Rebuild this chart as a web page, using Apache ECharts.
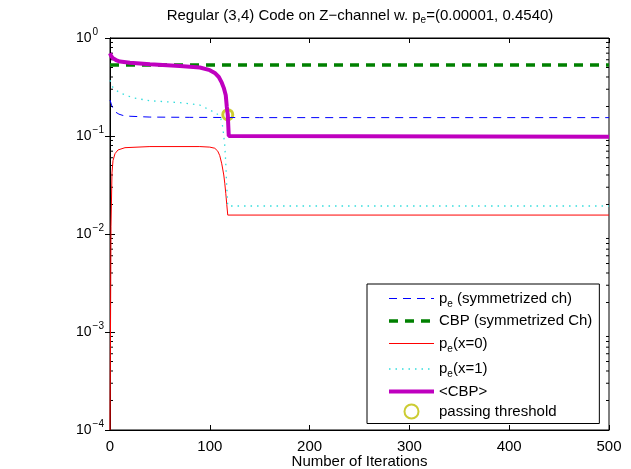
<!DOCTYPE html>
<html><head><meta charset="utf-8">
<script src="https://cdn.jsdelivr.net/npm/echarts@6/dist/echarts.min.js"></script>
<style>html,body{margin:0;padding:0;background:#fff}#c{width:631px;height:469px}</style>
</head><body><div id="c"></div>
<script>
const xTicks = [0, 100, 200, 300, 400, 500];
const yDecades = [1e-4, 1e-3, 1e-2, 1e-1, 1];

const peSymIter = [0, 2, 5, 9, 13, 20, 40, 80, 150, 500];
const peSymVal  = [0.233, 0.2, 0.177, 0.167, 0.162, 0.159, 0.156, 0.155, 0.154, 0.154];

const cbpSymIter = [0, 500];
const cbpSymVal  = [0.53, 0.53];

const pe0Iter = [0, 1, 2, 3, 5, 8, 15, 40, 90, 100, 105, 108, 110, 112, 114, 115, 116, 117, 118, 500];
const pe0Val  = [1e-4, 0.012, 0.042, 0.056, 0.066, 0.072, 0.076, 0.078, 0.078, 0.077, 0.075, 0.07, 0.063, 0.052, 0.04, 0.033, 0.026, 0.02, 0.0156, 0.0156];

const pe1Iter = [0, 3, 10, 23, 40, 70, 90, 100, 107, 111, 113, 115, 116, 117, 118, 500];
const pe1Val  = [0.37, 0.31, 0.275, 0.245, 0.229, 0.219, 0.207, 0.184, 0.17, 0.15, 0.124, 0.08, 0.053, 0.03, 0.0193, 0.0193];

const cbpAvgIter = [0, 1, 3, 6, 10, 20, 40, 70, 90, 100, 105, 109, 112, 114, 116, 117, 118, 119, 120, 500];
const cbpAvgVal  = [0.70, 0.66, 0.62, 0.595, 0.575, 0.56, 0.54, 0.518, 0.5, 0.47, 0.44, 0.4, 0.35, 0.31, 0.26, 0.2, 0.165, 0.1, 0.098, 0.098];

const thrIter = [118];
const thrVal  = [0.165];

const legendNames = ['peSym', 'cbpSym', 'pe0', 'pe1', 'cbpAvg', 'thr'];
const legendLabels = {
  peSym: '{t|p}{s|e}{t| (symmetrized ch)}',
  cbpSym: '{t|CBP (symmetrized Ch)}',
  pe0: '{t|p}{s|e}{t|(x=0)}',
  pe1: '{t|p}{s|e}{t|(x=1)}',
  cbpAvg: '{t|<CBP>}',
  thr: '{t|passing threshold}'
};
const legendLineWidths = {peSym: 1, cbpSym: 3.5, pe0: 1, pe1: 1.3, cbpAvg: 4};

const FONT = 'Liberation Sans, Arial, Helvetica, sans-serif';
const pairs = (xs, ys) => xs.map((x, i) => [x, ys[i]]);

// minor tick values for the log axis (2..9 in each decade)
const minorTicks = [];
for (let d = 0; d < yDecades.length - 1; d++) {
  for (let k = 2; k <= 9; k++) minorTicks.push([k * yDecades[d]]);
}

const chart = echarts.init(document.getElementById('c'), null, {renderer: 'canvas'});

const yLabel = v => {
  const e = Math.round(Math.log10(v));
  return '{b|10}{s|' + (e < 0 ? '\u2212' + (-e) : e) + '}';
};

const option = {
  backgroundColor: '#fff',
  animation: false,
  title: {
    text: '{a|Regular (3,4) Code on Z\u2212channel w. p}{s|e}{a|=(0.00001, 0.4540)}',
    left: 355, top: 3, textAlign: 'center',
    textStyle: {
      fontFamily: FONT, fontWeight: 'normal', color: '#000',
      rich: {
        a: {fontFamily: FONT, fontSize: 15, lineHeight: 16, color: '#000'},
        s: {fontFamily: FONT, fontSize: 10, lineHeight: 10, color: '#000', padding: [8, 0, 0, 0]}
      }
    }
  },
  grid: {left: 110, right: 22, top: 38, bottom: 39, outerBoundsMode: 'none', containLabel: false,
         show: true, borderColor: '#000', borderWidth: 1},
  xAxis: [{
    type: 'value', min: 0, max: 500, interval: 100,
    name: 'Number of Iterations', nameLocation: 'middle', nameGap: 24, nameMoveOverlap: false,
    nameTextStyle: {fontFamily: FONT, fontSize: 15, color: '#000'},
    axisLine: {lineStyle: {color: '#000', width: 1}},
    axisTick: {inside: true, length: 5, lineStyle: {color: '#000'}},
    axisLabel: {fontFamily: FONT, fontSize: 15, color: '#000', margin: 9},
    splitLine: {show: false}
  }, {
    type: 'value', min: 0, max: 500, interval: 100, position: 'top',
    axisLine: {lineStyle: {color: '#000'}},
    axisTick: {inside: true, length: 5, lineStyle: {color: '#000'}},
    axisLabel: {show: false}, splitLine: {show: false}
  }],
  yAxis: [{
    type: 'log', logBase: 10, min: 1e-4, max: 1,
    axisLine: {lineStyle: {color: '#000', width: 1}},
    axisTick: {inside: true, length: 5, lineStyle: {color: '#000'}},
    axisLabel: {
      fontFamily: FONT, color: '#000', margin: 34, align: 'left', formatter: yLabel,
      rich: {
        b: {fontFamily: FONT, fontSize: 14, lineHeight: 14, color: '#000'},
        s: {fontFamily: FONT, fontSize: 10, lineHeight: 10, color: '#000', padding: [0, 0, 12, 1]}
      }
    },
    splitLine: {show: false}
  }, {
    type: 'log', logBase: 10, min: 1e-4, max: 1, position: 'right',
    axisLine: {lineStyle: {color: '#000'}},
    axisTick: {inside: true, length: 5, lineStyle: {color: '#000'}},
    axisLabel: {show: false}, splitLine: {show: false}
  }],
  legend: {
    data: legendNames.map(n => n === 'thr' ? {name: n}
      : {name: n, itemStyle: {opacity: 0}, lineStyle: {width: legendLineWidths[n]}}),
    orient: 'vertical', left: 367, top: 284,
    padding: [4, 7, 4, 20], itemGap: 4.5,
    itemWidth: 45, itemHeight: 14,
    backgroundColor: '#fff', borderColor: '#000', borderWidth: 1,
    selectedMode: false,
    formatter: n => legendLabels[n],
    textStyle: {
      fontFamily: FONT, color: '#000',
      rich: {
        t: {fontFamily: FONT, fontSize: 15, color: '#000', lineHeight: 16},
        s: {fontFamily: FONT, fontSize: 10, color: '#000', lineHeight: 10, padding: [11, 0, 0, 0]}
      }
    }
  },
  series: [
    {
      type: 'custom', name: 'minorTicks', silent: true, data: minorTicks,
      encode: {y: 0},
      renderItem: (params, api) => {
        const v = api.value(0);
        const pL = api.coord([0, v]);
        const pR = api.coord([500, v]);
        return {
          type: 'group', children: [
            {type: 'line', shape: {x1: pL[0], y1: pL[1], x2: pL[0] + 3, y2: pL[1]}, style: {stroke: '#000', lineWidth: 1}},
            {type: 'line', shape: {x1: pR[0], y1: pR[1], x2: pR[0] - 3, y2: pR[1]}, style: {stroke: '#000', lineWidth: 1}}
          ]
        };
      }
    },
    {
      type: 'line', name: 'peSym', data: pairs(peSymIter, peSymVal), symbol: 'none',
      lineStyle: {color: '#0000ff', width: 1, type: [8, 6]}, itemStyle: {color: '#0000ff'}
    },
    {
      type: 'line', name: 'cbpSym', data: pairs(cbpSymIter, cbpSymVal), symbol: 'none',
      lineStyle: {color: '#008000', width: 3.5, type: [9, 7]}, itemStyle: {color: '#008000'}
    },
    {
      type: 'line', name: 'pe0', data: pairs(pe0Iter, pe0Val), symbol: 'none',
      lineStyle: {color: '#ff0000', width: 1}, itemStyle: {color: '#ff0000'}
    },
    {
      type: 'line', name: 'pe1', data: pairs(pe1Iter, pe1Val), symbol: 'none',
      lineStyle: {color: '#33dddd', width: 1.3, type: [1.5, 5]}, itemStyle: {color: '#33dddd'}
    },
    {
      type: 'line', name: 'cbpAvg', data: pairs(cbpAvgIter, cbpAvgVal), symbol: 'none',
      lineStyle: {color: '#bf00bf', width: 4}, itemStyle: {color: '#bf00bf'}
    },
    {
      type: 'scatter', name: 'thr', data: pairs(thrIter, thrVal), symbol: 'circle', symbolSize: 10,
      itemStyle: {color: 'rgba(255,255,255,0)', borderColor: '#bfbf00', borderWidth: 3}
    }
  ]
};
chart.setOption(option);
</script></body></html>
